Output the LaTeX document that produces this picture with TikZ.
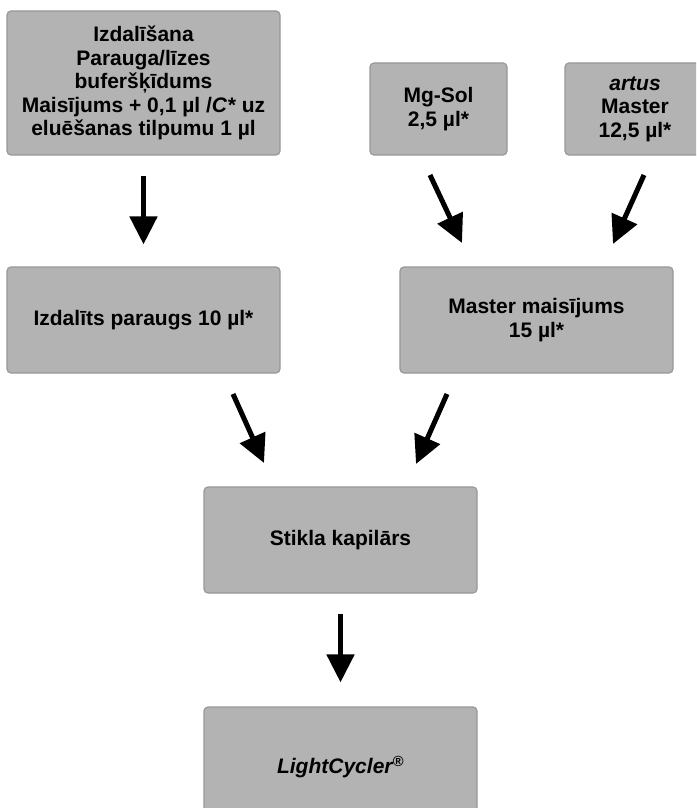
\documentclass[tikz,border=0pt]{standalone}
\usepackage{fontspec}
\setmainfont{Liberation Sans}
\usetikzlibrary{arrows.meta}

\definecolor{boxgray}{RGB}{179,179,179}
\definecolor{edgegray}{RGB}{152,152,152}

\begin{document}
\begin{tikzpicture}[x=1pt,y=-1pt,
    box/.style={draw=edgegray,fill=boxgray,line width=1.2pt,rounded corners=4pt,
                inner sep=0pt,align=center,
                font=\bfseries\fontsize{21}{23.5}\selectfont},
    flow/.style={line width=5pt,-{Triangle[length=28pt,width=27pt]}}]
    \useasboundingbox (0,0) rectangle (696,808);
    \clip (0,0) rectangle (696,808);

    % top row
    \node[box,minimum width=273pt,minimum height=144pt] (izd) at (143.5,83)
          {Izdalīšana\\Parauga/līzes\\buferšķīdums\\Maisījums + 0,1 µl /\textit{C*} uz\\eluēšanas tilpumu 1 µl};
    \node[box,minimum width=137pt,minimum height=92pt] (mgsol) at (438.5,109)
          {Mg-Sol\\2,5 µl*};
    \node[box,minimum width=140pt,minimum height=92pt] (artus) at (635,109)
          {\textit{artus}\\Master\\12,5 µl*};

    % middle row
    \node[box,minimum width=273pt,minimum height=106pt] (ipar) at (143.5,320)
          {Izdalīts paraugs 10 µl*};
    \node[box,minimum width=273pt,minimum height=106pt] (mmix) at (536.5,320)
          {Master maisījums\\15 µl*};

    % bottom
    \node[box,minimum width=273pt,minimum height=106pt] (kap) at (340.5,540)
          {Stikla kapilārs};
    \node[box,minimum width=273pt,minimum height=120pt] (lc) at (340.5,767)
          {\textit{LightCycler\textsuperscript{®}}};

    % free arrow ends
    \coordinate (mgout) at (430,175);
    \coordinate (mmin1) at (462,243);
    \coordinate (arout) at (644,175);
    \coordinate (mmin2) at (613,244);
    \coordinate (parout) at (233,394);
    \coordinate (kapin1) at (264,463);
    \coordinate (mmout) at (447,394);
    \coordinate (kapin2) at (416,464);

    \draw[flow,shorten <=20pt,shorten >=22pt] (izd.south) -- (ipar.north);
    \draw[flow] (mgout) -- (mmin1);
    \draw[flow] (arout) -- (mmin2);

    \draw[flow] (parout) -- (kapin1);
    \draw[flow] (mmout) -- (kapin2);

    \draw[flow,shorten <=20pt,shorten >=24pt] (kap.south) -- (lc.north);

  \end{tikzpicture}
\end{document}
